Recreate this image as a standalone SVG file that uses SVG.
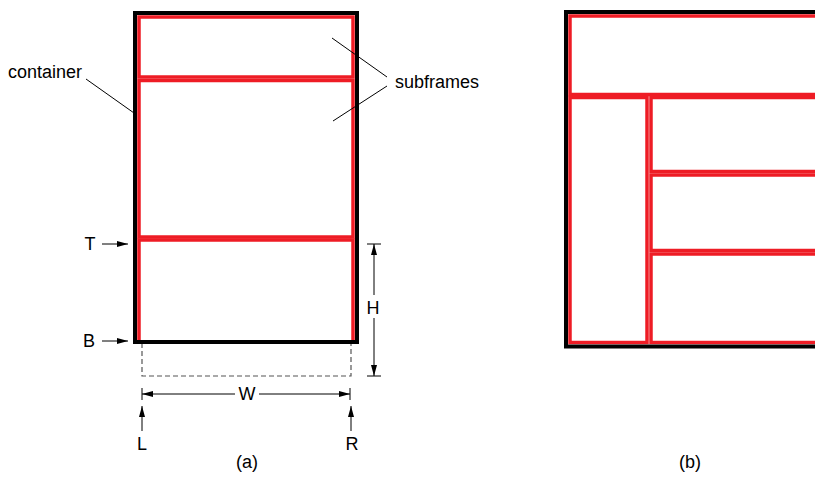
<svg xmlns="http://www.w3.org/2000/svg" width="815" height="497" viewBox="0 0 815 497">
<style>
.lbl{font-family:"Liberation Sans",Arial,sans-serif;font-size:18px;fill:#000}
.mid{text-anchor:middle}
.frame{fill:none;stroke:#ee1c25;stroke-width:3.5}
.cont{fill:none;stroke:#000;stroke-width:4}
.thin{fill:none;stroke:#000;stroke-width:1}
.dash{fill:none;stroke:#555;stroke-width:1.2;stroke-dasharray:5,3}
</style>
<defs>
<marker id="ah" viewBox="0 0 11 6" refX="11" refY="3" markerWidth="11" markerHeight="6" markerUnits="userSpaceOnUse" orient="auto">
<path d="M0,0 L11,3 L0,6 Z" fill="#000"/>
</marker>
</defs>
<rect width="815" height="497" fill="#fff"/>

<g id="panel-a">
<g id="a-extent"><rect class="dash" x="142" y="342" width="209" height="34"/></g>
<g id="a-subframe-1"><rect class="frame" x="139" y="17" width="214" height="60"/></g>
<g id="a-subframe-2"><rect class="frame" x="139" y="80.5" width="214" height="156.5"/></g>
<g id="a-subframe-3"><rect class="frame" x="139" y="240" width="214" height="102"/></g>
<g id="a-container"><rect class="cont" x="135" y="13" width="222" height="329"/></g>
</g>

<g id="panel-b">
<g id="b-subframe-1"><rect class="frame" x="570" y="16" width="300" height="78.5"/></g>
<g id="b-subframe-2"><rect class="frame" x="570" y="97.5" width="77" height="245"/></g>
<g id="b-subframe-3"><rect class="frame" x="651" y="97.5" width="220" height="74"/></g>
<g id="b-subframe-4"><rect class="frame" x="651" y="175" width="220" height="75.5"/></g>
<g id="b-subframe-5"><rect class="frame" x="651" y="254" width="220" height="88.5"/></g>
<g id="b-container"><rect class="cont" x="566" y="12" width="300" height="334.5"/></g>
</g>

<g id="connectors">
<line class="thin" x1="86" y1="79" x2="134" y2="113"/>
<line class="thin" x1="332" y1="38" x2="387" y2="77"/>
<line class="thin" x1="387" y1="86" x2="333" y2="121"/>
<line class="thin" x1="102" y1="244" x2="128" y2="244" marker-end="url(#ah)"/>
<line class="thin" x1="102" y1="341" x2="128" y2="341" marker-end="url(#ah)"/>
<line class="thin" x1="142" y1="431" x2="142" y2="406" marker-end="url(#ah)"/>
<line class="thin" x1="351" y1="431" x2="351" y2="406" marker-end="url(#ah)"/>
<line class="thin" x1="367" y1="244" x2="381" y2="244"/>
<line class="thin" x1="367" y1="376" x2="381" y2="376"/>
<line class="thin" x1="374" y1="295" x2="374" y2="244" marker-end="url(#ah)"/>
<line class="thin" x1="374" y1="318" x2="374" y2="376" marker-end="url(#ah)"/>
<line class="thin" x1="142" y1="388" x2="142" y2="400"/>
<line class="thin" x1="350" y1="388" x2="350" y2="400"/>
<line class="thin" x1="235" y1="394" x2="142" y2="394" marker-end="url(#ah)"/>
<line class="thin" x1="259" y1="394" x2="350" y2="394" marker-end="url(#ah)"/>
</g>

<g id="labels">
<text class="lbl" x="8" y="78">container</text>
<text class="lbl" x="395" y="88">subframes</text>
<text class="lbl mid" x="90" y="250">T</text>
<text class="lbl mid" x="89" y="347">B</text>
<text class="lbl mid" x="373" y="314">H</text>
<text class="lbl mid" x="247" y="400">W</text>
<text class="lbl mid" x="142" y="450">L</text>
<text class="lbl mid" x="352" y="450">R</text>
<text class="lbl mid" x="247" y="468">(a)</text>
<text class="lbl mid" x="690" y="468">(b)</text>
</g>
</svg>
